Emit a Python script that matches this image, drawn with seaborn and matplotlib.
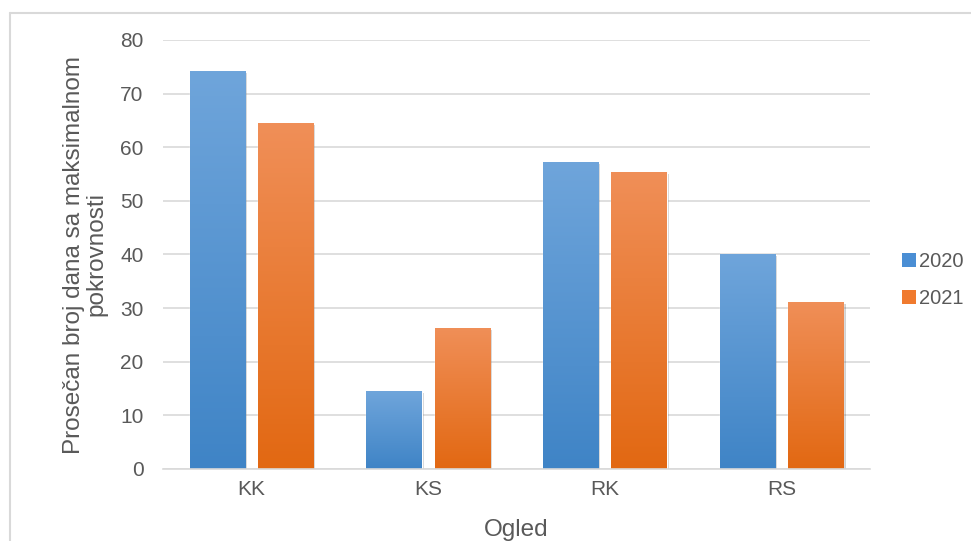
import numpy as np
import pandas as pd
import matplotlib
matplotlib.use("Agg")
import matplotlib.pyplot as plt
import seaborn as sns
from matplotlib.colors import LinearSegmentedColormap
from matplotlib.patches import Patch
from matplotlib.lines import Line2D
import matplotlib.patheffects as pe

categories = ["KK", "KS", "RK", "RS"]
series_names = ["2020", "2021"]
values_2020 = [74.2, 14.5, 57.3, 40.1]
values_2021 = [64.5, 26.3, 55.4, 31.2]
y_ticks = [0, 10, 20, 30, 40, 50, 60, 70, 80]
x_label = "Ogled"
y_label = "Prosečan broj dana sa maksimalnom\npokrovnosti"

df = pd.DataFrame({
    "Ogled": categories * 2,
    "Godina": [series_names[0]] * 4 + [series_names[1]] * 4,
    "Vrednost": values_2020 + values_2021,
})

sns.set_theme(style="white")
plt.rcParams["font.family"] = ["Liberation Sans", "DejaVu Sans"]

fig = plt.figure(figsize=(9.71, 5.41), dpi=100)
ax = fig.add_axes([163 / 971, 72 / 541, 707 / 971, 429 / 541])

mid_colors = {"2020": "#4f90d2", "2021": "#ee7a2c"}
grads = {
    "2020": ("#6fa5db", "#3f84c6"),
    "2021": ("#f08f58", "#e26812"),
}

sns.barplot(data=df, x="Ogled", y="Vrednost", hue="Godina", order=categories,
            hue_order=series_names, palette=mid_colors, width=0.773, gap=0.19,
            ax=ax, legend=False, saturation=1)

ax.set_ylim(0, 80)
ax.set_xlim(-0.5, 3.5)
ax.set_yticks(y_ticks)
ax.yaxis.grid(True, color="#d9d9d9", linewidth=1.2)
ax.set_axisbelow(True)
for s in ["top", "right", "left"]:
    ax.spines[s].set_visible(False)
ax.spines["bottom"].set_color("#d9d9d9")
ax.spines["bottom"].set_linewidth(1.2)
ax.tick_params(axis="y", length=0, pad=14, labelsize=15, labelcolor="#595959")
ax.tick_params(axis="x", length=0, pad=8, labelsize=15, labelcolor="#595959")
ax.set_xlabel(x_label, fontsize=17.5, color="#595959", labelpad=14)
ax.set_ylabel(y_label, fontsize=17.5, color="#595959", labelpad=9, linespacing=1.05)

# gradient fill on each bar
patches = [p for p in ax.patches]
n = len(categories)
for i, p in enumerate(patches):
    key = series_names[i // n]
    top_c, bot_c = grads[key]
    cmap = LinearSegmentedColormap.from_list("g", [bot_c, top_c])
    x0, y0 = p.get_x(), p.get_y()
    w, h = p.get_width(), p.get_height()
    p.set_path_effects([pe.SimplePatchShadow(offset=(1.5, -1.5), shadow_rgbFace="#000000", alpha=0.18), pe.Normal()])
    grad = np.linspace(0, 1, 256).reshape(-1, 1)
    im = ax.imshow(grad, cmap=cmap, origin="lower", aspect="auto",
                   extent=[x0, x0 + w, y0, y0 + h], zorder=p.get_zorder() + 0.1)
    im.set_clip_path(p)
ax.set_xlim(-0.5, 3.5)
ax.set_ylim(0, 80)

handles = [Patch(facecolor="#4a8ed4", edgecolor="none"),
           Patch(facecolor="#f07a2e", edgecolor="none")]
fig.legend(handles, series_names, loc="center left", bbox_to_anchor=(884 / 971, 1 - 280 / 541),
           frameon=False, fontsize=14.5, labelcolor="#595959", handlelength=0.7,
           handleheight=0.7, handletextpad=0.15, labelspacing=0.9)

# outer border
fig.add_artist(Line2D([10 / 971, 10 / 971], [0, 1 - 13 / 541], color="#d9d9d9", linewidth=1.5))
fig.add_artist(Line2D([10 / 971, 1], [1 - 13 / 541, 1 - 13 / 541], color="#d9d9d9", linewidth=1.5))

fig.savefig("out.png", dpi=100)
